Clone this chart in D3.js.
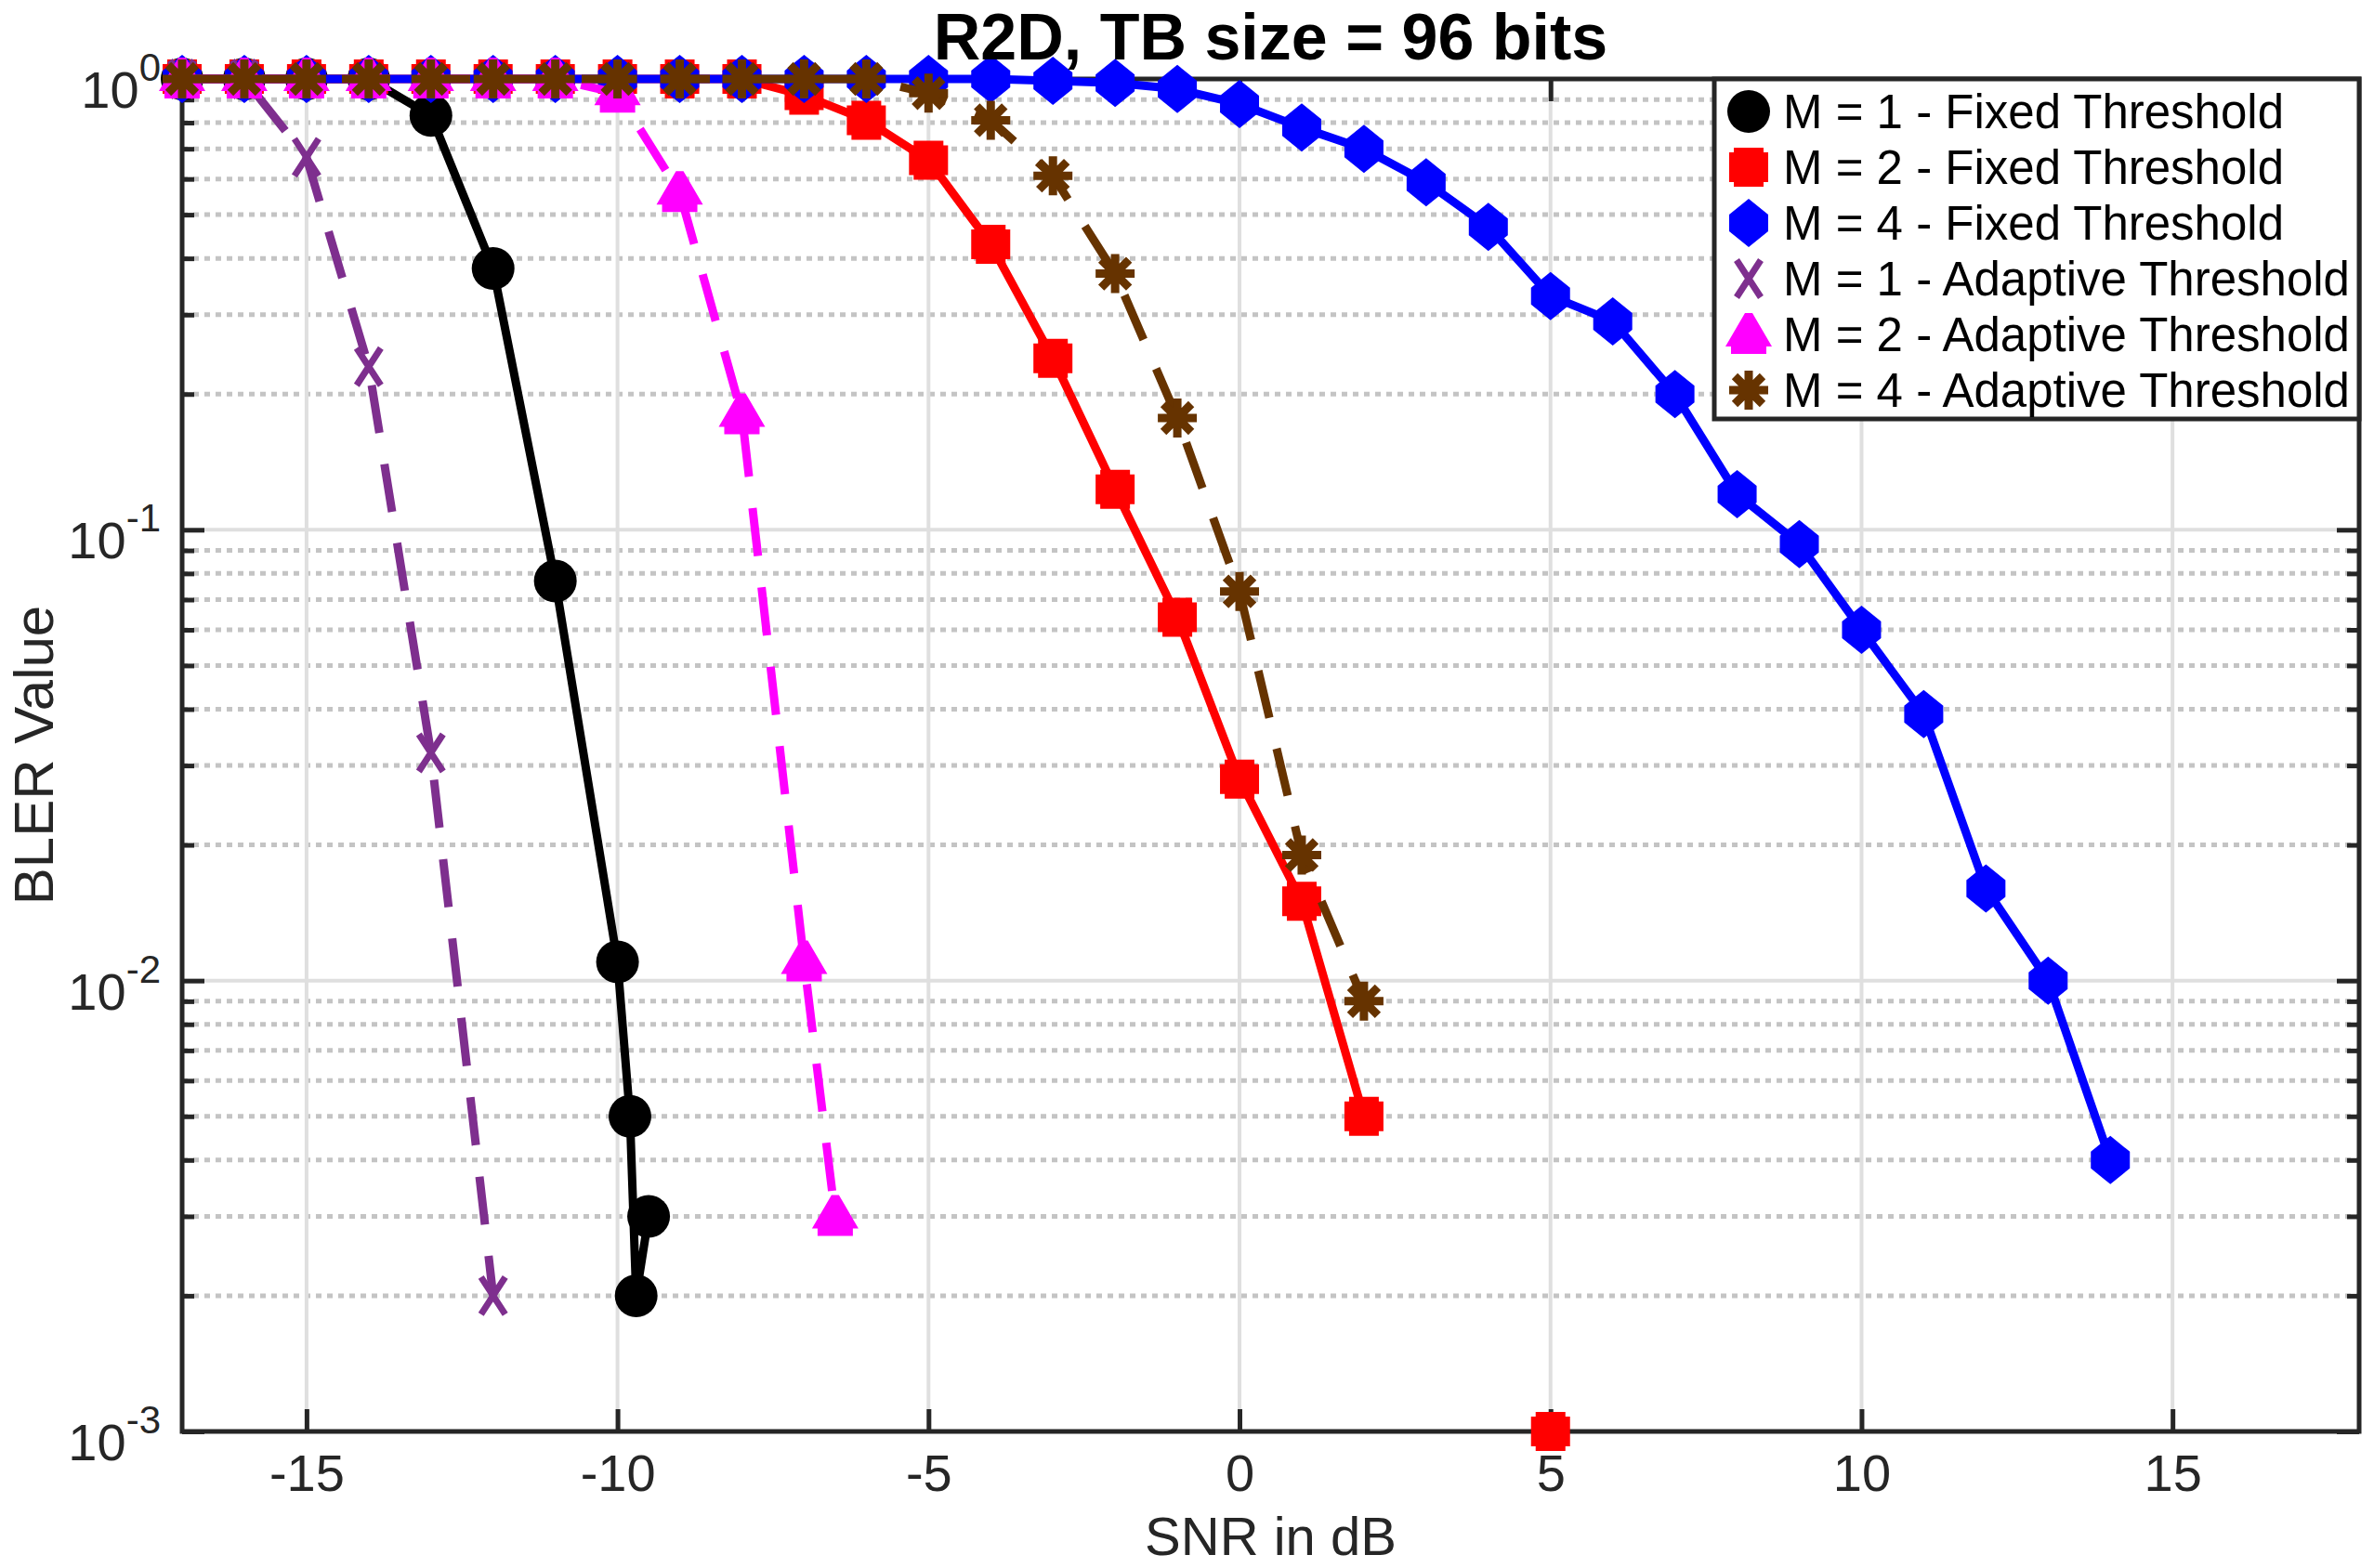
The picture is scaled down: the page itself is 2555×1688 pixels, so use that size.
<!DOCTYPE html>
<html>
<head>
<meta charset="utf-8">
<script src="https://cdn.jsdelivr.net/npm/d3@7"></script>
<style>
  body { margin: 0; background: #fff; }
  text { font-family: "Liberation Sans", Arial, Helvetica, sans-serif; fill: #262626; }
</style>
</head>
<body>
<div id="chart"></div>
<script>
// BLER vs SNR data (null = no value, line breaks there)
const snrM1Fixed = [-17, -16, -15, -14, -13, -12, -11, -10, -9.8, -9.7, -9.5];
const blerM1Fixed = [1, 1, 1, 1, 0.83, 0.38, 0.077, 0.011, 0.005, 0.002, 0.003];

const snrM2Fixed = [-17, -16, -15, -14, -13, -12, -11, -10, -9, -8, -7, -6, -5, -4, -3, -2, -1, 0, 1, 2, 3, 4, 5];
const blerM2Fixed = [1, 1, 1, 1, 1, 1, 1, 1, 1, 1, 0.92, 0.81, 0.66, 0.43, 0.24, 0.123, 0.064, 0.028, 0.015, 0.005, null, null, 0.001];

const snrM4Fixed = [-17, -16, -15, -14, -13, -12, -11, -10, -9, -8, -7, -6, -5, -4, -3, -2, -1, 0, 1, 2, 3, 4, 5, 6, 7, 8, 9, 10, 11, 12, 13, 14];
const blerM4Fixed = [1, 1, 1, 1, 1, 1, 1, 1, 1, 1, 1, 1, 1, 1, 0.99, 0.98, 0.95, 0.88, 0.78, 0.70, 0.59, 0.47, 0.33, 0.29, 0.20, 0.12, 0.093, 0.060, 0.039, 0.016, 0.010, 0.004];

const snrM1Adaptive = [-17, -16, -15, -14, -13, -12];
const blerM1Adaptive = [1, 1, 0.67, 0.23, 0.032, 0.002];

const snrM2Adaptive = [-17, -16, -15, -14, -13, -12, -11, -10, -9, -8, -7, -6.5];
const blerM2Adaptive = [1, 1, 1, 1, 1, 1, 1, 0.93, 0.56, 0.18, 0.011, 0.003];

const snrM4Adaptive = [-17, -16, -15, -14, -13, -12, -11, -10, -9, -8, -7, -6, -5, -4, -3, -2, -1, 0, 1, 2];
const blerM4Adaptive = [1, 1, 1, 1, 1, 1, 1, 1, 1, 1, 1, 1, 0.93, 0.81, 0.61, 0.37, 0.177, 0.073, 0.019, 0.009];

const seriesNames = [
    "M = 1 - Fixed Threshold",
    "M = 2 - Fixed Threshold",
    "M = 4 - Fixed Threshold",
    "M = 1 - Adaptive Threshold",
    "M = 2 - Adaptive Threshold",
    "M = 4 - Adaptive Threshold"
];

const xTicks = [-15, -10, -5, 0, 5, 10, 15];
const yTicks = [1e-3, 1e-2, 1e-1, 1];
const yTickExponents = ["-3", "-2", "-1", "0"];

// marker shapes, centred on 0,0
const markerPaths = {
    circle: "M-23,0A23,23 0 1,0 23,0A23,23 0 1,0 -23,0Z",
    square: "M-21,-16L-16,-16L-16,-21L16,-21L16,-16L21,-16L21,16L16,16L16,21L-16,21L-16,16L-21,16Z",
    diamond: "M0,-26L21,-9L21,9L0,26L-21,9L-21,-9Z",
    cross: "M-13,-20L13,20M-13,20L13,-20",
    triangle: "M-4,-23L4,-23L25,13L19,13L19,21L-19,21L-19,13L-25,13Z",
    asterisk: "M-21,0L21,0M0,-21L0,21M-15,-15L15,15M-15,15L15,-15"
};

const series = [
    { name: seriesNames[0], snr: snrM1Fixed, bler: blerM1Fixed, color: "#000000", marker: "circle", dashed: false },
    { name: seriesNames[1], snr: snrM2Fixed, bler: blerM2Fixed, color: "#ff0000", marker: "square", dashed: false },
    { name: seriesNames[2], snr: snrM4Fixed, bler: blerM4Fixed, color: "#0000ff", marker: "diamond", dashed: false },
    { name: seriesNames[3], snr: snrM1Adaptive, bler: blerM1Adaptive, color: "#7e2f8e", marker: "cross", dashed: true },
    { name: seriesNames[4], snr: snrM2Adaptive, bler: blerM2Adaptive, color: "#ff00ff", marker: "triangle", dashed: true },
    { name: seriesNames[5], snr: snrM4Adaptive, bler: blerM4Adaptive, color: "#663300", marker: "asterisk", dashed: true }
];

function drawMarker(g, shape, color) {
    const p = g.append("path").attr("d", markerPaths[shape]);
    if (shape === "cross" || shape === "asterisk") {
        p.style("fill", "none").style("stroke", color).style("stroke-width", shape === "cross" ? 7 : 9);
    } else {
        p.style("fill", color).style("stroke", "none");
    }
}

//margins
var margin = { top: 85, right: 16, bottom: 147, left: 196 },
    width = 2555 - margin.left - margin.right,
    height = 1688 - margin.top - margin.bottom;

var svg = d3.select("#chart")
    .append("svg")
    .attr("width", 2555)
    .attr("height", 1688)
    .append("g")
    .attr("transform", "translate(" + margin.left + "," + margin.top + ")");

var x = d3.scaleLinear().domain([-17, 18]).range([0, width]);
var y = d3.scaleLog().domain([1e-3, 1]).range([height, 0]);

// minor y values 2..9 per decade
var minorY = [];
[1e-3, 1e-2, 1e-1].forEach(function (d) {
    for (var k = 2; k <= 9; k++) minorY.push(k * d);
});

//grid
svg.append("g").selectAll("line").data(minorY).enter().append("line")
    .attr("x1", 0).attr("x2", width)
    .attr("y1", d => y(d)).attr("y2", d => y(d))
    .style("stroke", "#c4c4c4").style("stroke-width", 5).style("stroke-dasharray", "6,6");

svg.append("g").selectAll("line").data(xTicks).enter().append("line")
    .attr("x1", d => x(d)).attr("x2", d => x(d))
    .attr("y1", 0).attr("y2", height)
    .style("stroke", "#dfdfdf").style("stroke-width", 4);

svg.append("g").selectAll("line").data(yTicks).enter().append("line")
    .attr("x1", 0).attr("x2", width)
    .attr("y1", d => y(d)).attr("y2", d => y(d))
    .style("stroke", "#dfdfdf").style("stroke-width", 4);

//axes with inward ticks
function styleAxis(g) {
    g.selectAll(".domain").remove();
    g.selectAll(".tick line").style("stroke", "#262626").style("stroke-width", 5);
}

svg.append("g")
    .attr("transform", "translate(0," + height + ")")
    .call(d3.axisBottom(x).tickValues(xTicks).tickSizeInner(-24).tickSizeOuter(0).tickPadding(24))
    .call(styleAxis)
    .call(g => g.selectAll(".tick text")
        .style("font-size", "56px")
        .style("fill", "#262626")
        .text(d => d < 0 ? "-" + Math.abs(d) : d));

svg.append("g")
    .call(d3.axisTop(x).tickValues(xTicks).tickSizeInner(-24).tickSizeOuter(0).tickFormat(""))
    .call(styleAxis);

svg.append("g")
    .call(d3.axisLeft(y).tickValues(yTicks).tickSizeInner(-24).tickSizeOuter(0).tickFormat(""))
    .call(styleAxis);
svg.append("g")
    .call(d3.axisLeft(y).tickValues(minorY).tickSizeInner(-13).tickSizeOuter(0).tickFormat(""))
    .call(styleAxis);
svg.append("g")
    .attr("transform", "translate(" + width + ",0)")
    .call(d3.axisRight(y).tickValues(yTicks).tickSizeInner(-24).tickSizeOuter(0).tickFormat(""))
    .call(styleAxis);
svg.append("g")
    .attr("transform", "translate(" + width + ",0)")
    .call(d3.axisRight(y).tickValues(minorY).tickSizeInner(-13).tickSizeOuter(0).tickFormat(""))
    .call(styleAxis);

//y tick labels as 10^n
var yLabels = svg.append("g").selectAll("text").data(yTicks).enter().append("text")
    .attr("x", -23)
    .attr("y", d => y(d) + 31)
    .style("text-anchor", "end")
    .style("font-size", "56px");
yLabels.append("tspan").text("10");
yLabels.append("tspan")
    .attr("dy", -29)
    .style("font-size", "42px")
    .text((d, i) => yTickExponents[i]);

//box
svg.append("rect")
    .attr("x", 0).attr("y", 0)
    .attr("width", width).attr("height", height)
    .style("fill", "none").style("stroke", "#262626").style("stroke-width", 5);

//curves
series.forEach(function (s) {
    var pts = s.snr.map((v, i) => ({ snr: v, bler: s.bler[i] }));
    var line = d3.line()
        .defined(d => d.bler !== null)
        .x(d => x(d.snr))
        .y(d => y(d.bler));

    svg.append("path")
        .datum(pts)
        .attr("d", line)
        .style("fill", "none")
        .style("stroke", s.color)
        .style("stroke-width", 9)
        .style("stroke-linejoin", "round")
        .style("stroke-dasharray", s.dashed ? "52,34" : null);

    svg.append("g").selectAll("g")
        .data(pts.filter(d => d.bler !== null))
        .enter().append("g")
        .attr("transform", d => "translate(" + x(d.snr) + "," + y(d.bler) + ")")
        .each(function () { drawMarker(d3.select(this), s.marker, s.color); });
});

//legend
var legendX = 1845 - margin.left, legendW = width - legendX, rowH = 60;
var legend = svg.append("g");
legend.append("rect")
    .attr("x", legendX).attr("y", 0)
    .attr("width", legendW).attr("height", 366)
    .style("fill", "#fff").style("stroke", "#262626").style("stroke-width", 5);

series.forEach(function (s, i) {
    var cy = 35 + i * rowH;
    var m = legend.append("g").attr("transform", "translate(" + (legendX + 37) + "," + cy + ")");
    drawMarker(m, s.marker, s.color);
    legend.append("text")
        .attr("x", legendX + 74)
        .attr("y", cy + 18)
        .style("font-size", "51px")
        .style("fill", "#000")
        .text(s.name);
});

//title and axis labels
svg.append("text")
    .attr("x", width / 2)
    .attr("y", 64 - margin.top)
    .style("text-anchor", "middle")
    .style("font-size", "70px")
    .style("font-weight", "bold")
    .style("fill", "#000")
    .text("R2D, TB size = 96 bits");

svg.append("text")
    .attr("x", width / 2)
    .attr("y", 1674 - margin.top)
    .style("text-anchor", "middle")
    .style("font-size", "58px")
    .text("SNR in dB");

svg.append("text")
    .attr("transform", "translate(" + (57 - margin.left) + "," + (height / 2) + ") rotate(-90)")
    .style("text-anchor", "middle")
    .style("font-size", "60px")
    .text("BLER Value");
</script>
</body>
</html>
